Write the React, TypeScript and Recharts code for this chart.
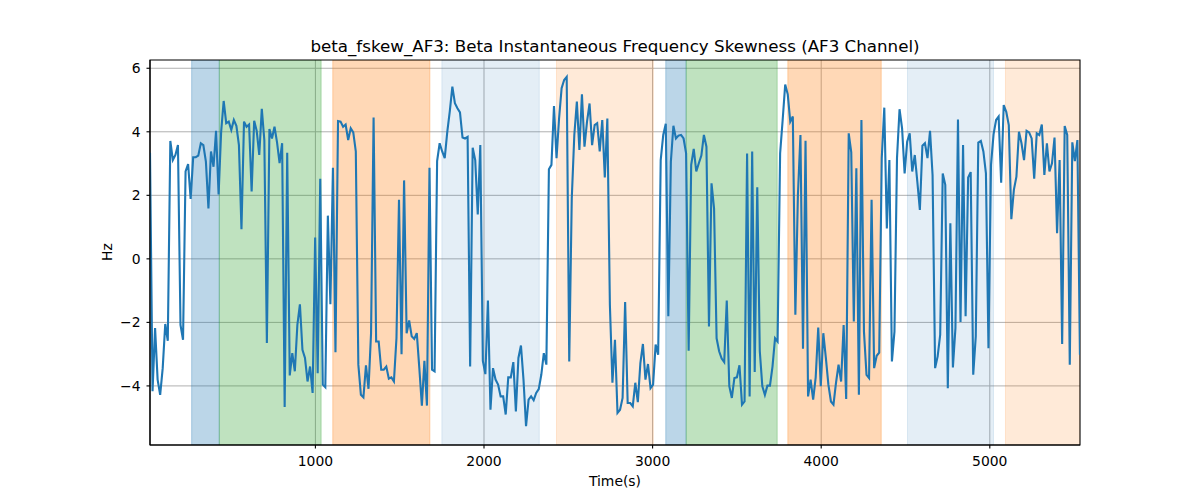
import { CartesianGrid, Line, LineChart, ReferenceArea, XAxis, YAxis } from "recharts";

// sample grid of the skewness trace (seconds)
const START_TIME = 19;
const TIME_STEP = 15.07;

// beta instantaneous frequency skewness, AF3 (Hz)
const skewValues = [
  3.34, -4.17, -2.18, -3.8, -4.28, -3.44, -2.05, -2.58, 3.71, 3.11,
  3.27, 3.58, -2.08, -2.55, 2.75, 2.98, 1.89, 3.2, 3.2, 3.25,
  3.64, 3.58, 3.06, 1.59, 3.38, 2.9, 4.03, 2.03, 4.0, 4.97,
  4.27, 4.32, 4.06, 4.37, 4.19, 3.58, 0.93, 4.32, 4.16, 4.23,
  2.12, 4.35, 4.03, 3.27, 4.72, 3.74, -2.65, 4.09, 3.79, 4.16,
  3.67, 3.01, 3.64, -4.66, 3.34, -3.67, -2.97, -3.54, -2.08, -1.43,
  -2.86, -3.12, -3.86, -3.39, -4.22, 0.67, -3.6, 2.52, -3.96, -4.04,
  1.36, -1.43, 2.87, -2.94, 4.34, 4.32, 4.16, 4.23, 3.74, 4.11,
  3.98, 3.38, -3.33, -4.28, -4.36, -3.35, -4.09, -2.34, 4.45, -2.6,
  -2.6, -3.49, -3.49, -3.39, -3.77, -3.73, -3.86, -2.5, 1.86, -3.0,
  2.47, -2.34, -1.94, -2.44, -2.52, -2.34, -3.44, -4.62, -3.21, -4.62,
  2.87, -3.49, -3.54, 3.08, 3.64, 3.38, 3.17, 4.0, 4.65, 5.42,
  4.9, 4.74, 4.61, 3.82, 3.79, 3.84, -3.39, 3.5, 3.11, 1.4,
  3.58, -3.21, -3.63, -1.31, -4.75, -3.44, -3.8, -3.96, -4.33, -4.33,
  -4.9, -3.73, -3.73, -3.25, -4.8, -3.12, -2.73, -3.8, -5.27, -4.43,
  -4.33, -4.45, -4.22, -4.1, -3.65, -2.97, -3.33, 2.82, 2.96, 4.81,
  3.17, 4.42, 5.37, 5.63, 5.73, -3.23, 1.91, 3.9, 4.95, 3.43,
  5.18, 3.53, 4.32, 4.89, 3.58, 4.21, 4.27, 3.38, 4.37, 2.56,
  4.42, -1.45, -3.9, -2.55, -4.85, -4.75, -4.38, -1.36, -4.54, -4.54,
  -4.64, -3.9, -4.51, -3.28, -2.68, -3.8, -3.31, -4.07, -3.96, -2.7,
  -3.02, 3.11, 3.9, 4.25, -1.81, 3.06, 4.19, 3.79, 3.88, 3.9,
  3.79, 3.32, -2.89, 2.96, 3.46, 2.75, 3.01, 3.25, 3.9, 3.53,
  -2.13, 2.38, 1.59, -2.5, -2.91, -3.14, -3.25, -1.31, -4.01, -4.38,
  -3.75, -3.73, -3.35, -4.59, -4.49, 3.32, -4.33, 3.38, -3.56, 2.25,
  -2.91, -4.01, -4.28, -3.99, -3.99, -3.39, -2.5, -2.6, 3.32, 4.37,
  5.49, 5.18, 4.32, 4.48, -1.76, 2.01, 3.9, -2.83, 3.72, -4.33,
  -3.8, -4.43, -3.73, -2.16, -4.01, -2.34, -3.12, -3.96, -4.49, -4.59,
  -3.9, -3.33, -3.86, -2.08, -4.41, 3.95, 3.35, -1.97, 2.85, -4.28,
  4.37, -2.29, -3.65, -3.75, 1.86, -3.44, -3.05, -2.95, 3.17, 4.76,
  0.96, 3.11, -3.23, -2.29, 3.17, 4.71, 4.11, 2.69, 3.69, 3.95,
  2.75, 3.27, 2.43, 1.54, 3.56, 3.64, 3.17, 4.03, 2.64, -3.44,
  -3.07, -2.39, 2.69, 2.33, -4.07, 1.12, -3.42, -2.18, 4.39, -1.99,
  3.58, -1.81, 2.56, 2.73, -3.65, -2.44, 3.66, 3.71, 3.38, 2.69,
  -2.81, 2.96, 3.92, 4.37, 4.48, 2.4, 4.84, 4.63, 4.21, 1.25,
  2.17, 2.59, 4.0, 3.64, 3.11, 4.03, 3.98, 3.79, 2.52, 3.95,
  3.9, 4.23, 2.64, 3.64, 2.75, 3.01, 3.82, 0.81, 3.11, -2.68,
  4.18, 3.9, -3.33, 3.67, 3.08, 3.74, -3.02,
];

// shaded segments (seconds)
const spanStart = [266, 430, 1103, 1750, 2430, 3078, 3199, 3802, 4512, 5093];
const spanEnd = [430, 1034, 1679, 2328, 3004, 3199, 3739, 4356, 5022, 5535];
const spanColor = [
  "#1f77b4", "#2ca02c", "#ff7f0e", "#1f77b4", "#ff7f0e",
  "#1f77b4", "#2ca02c", "#ff7f0e", "#1f77b4", "#ff7f0e",
];
const spanAlpha = [0.3, 0.3, 0.3, 0.12, 0.16, 0.3, 0.3, 0.3, 0.12, 0.16];

const xTicks = [1000, 2000, 3000, 4000, 5000];
const yTicks = [-4, -2, 0, 2, 4, 6];

const X_DOMAIN: [number, number] = [19, 5535];
const Y_DOMAIN: [number, number] = [-5.86, 6.26];

const chartData = skewValues.map((value, i) => ({
  time: START_TIME + i * TIME_STEP,
  value,
}));

const FONT = "DejaVu Sans, sans-serif";

const formatTick = (v: number) => (v < 0 ? `\u2212${Math.abs(v)}` : `${v}`);

export default function App() {
  return (
    <div style={{ position: "absolute", left: 0, top: 0, width: 1200, height: 500, background: "#fff", fontFamily: FONT }}>
      <LineChart
        width={1200}
        height={500}
        data={chartData}
        margin={{ top: 60, right: 120, bottom: 25, left: 90 }}
      >
        <CartesianGrid stroke="#b0b0b0" strokeWidth={1} horizontalValues={yTicks} verticalValues={xTicks} />
        {spanStart.map((start, i) => (
          <ReferenceArea
            key={i}
            x1={start}
            x2={spanEnd[i]}
            fill={spanColor[i]}
            fillOpacity={spanAlpha[i]}
            stroke={spanColor[i]}
            strokeOpacity={spanAlpha[i]}
            ifOverflow="hidden"
          />
        ))}
        <XAxis
          dataKey="time"
          type="number"
          domain={X_DOMAIN}
          ticks={xTicks}
          allowDataOverflow
          height={30}
          tickSize={3.5}
          tickMargin={8}
          axisLine={{ stroke: "#000", strokeWidth: 1.1 }}
          tickLine={{ stroke: "#000", strokeWidth: 1.1 }}
          tick={{ fontSize: 13.9, fill: "#000", fontFamily: FONT }}
        />
        <YAxis
          type="number"
          domain={Y_DOMAIN}
          ticks={yTicks}
          allowDataOverflow
          width={60}
          tickSize={3.5}
          tickMargin={6}
          tickFormatter={formatTick}
          axisLine={{ stroke: "#000", strokeWidth: 1.1 }}
          tickLine={{ stroke: "#000", strokeWidth: 1.1 }}
          tick={{ fontSize: 13.9, fill: "#000", fontFamily: FONT }}
        />
        <Line
          type="linear"
          dataKey="value"
          stroke="#1f77b4"
          strokeWidth={2.1}
          dot={false}
          activeDot={false}
          isAnimationActive={false}
        />
        <ReferenceArea
          x1={X_DOMAIN[0]}
          x2={X_DOMAIN[1]}
          y1={Y_DOMAIN[0]}
          y2={Y_DOMAIN[1]}
          fill="none"
          stroke="#000"
          strokeWidth={1.1}
        />
      </LineChart>
      <svg width={1200} height={500} style={{ position: "absolute", left: 0, top: 0, pointerEvents: "none" }}>
        <text x={615} y={52} textAnchor="middle" fontSize={16.7} fontFamily={FONT} fill="#000">
          beta_fskew_AF3: Beta Instantaneous Frequency Skewness (AF3 Channel)
        </text>
        <text x={615} y={486} textAnchor="middle" fontSize={13.9} fontFamily={FONT} fill="#000">
          Time(s)
        </text>
        <text
          x={112}
          y={252}
          textAnchor="middle"
          fontSize={13.9}
          fontFamily={FONT}
          fill="#000"
          transform="rotate(-90 112 252)"
        >
          Hz
        </text>
      </svg>
    </div>
  );
}
